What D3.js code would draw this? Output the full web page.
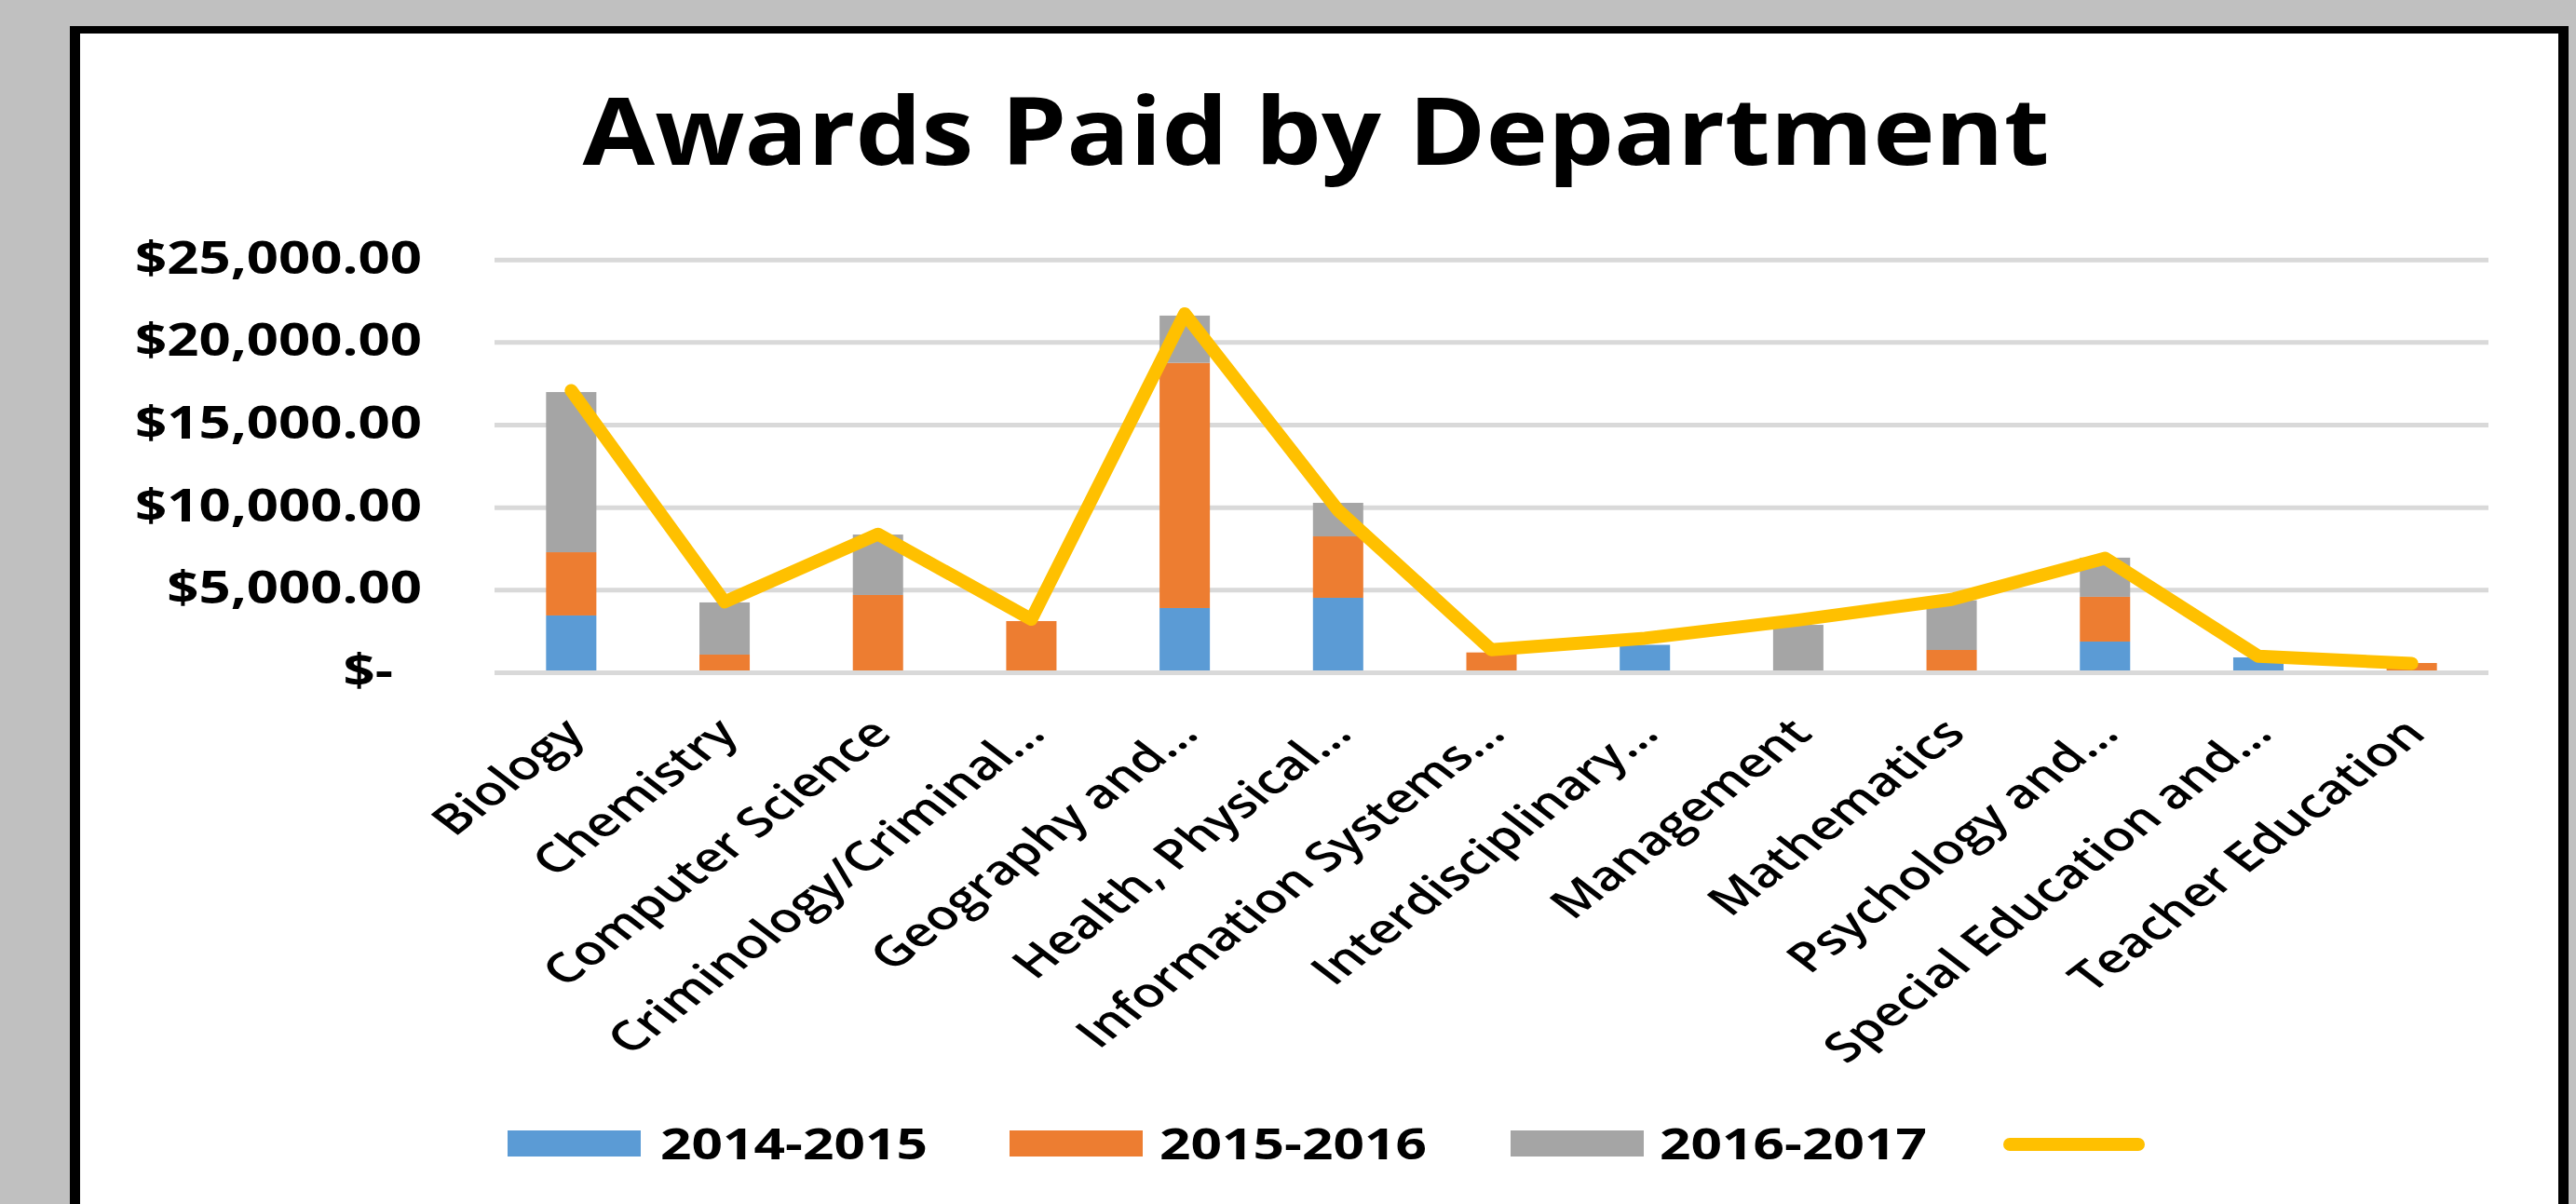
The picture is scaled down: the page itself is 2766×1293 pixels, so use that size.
<!DOCTYPE html>
<html><head><meta charset="utf-8">
<script src="https://cdn.jsdelivr.net/npm/d3@7"></script>
<style>html,body{margin:0;padding:0;background:#c0c0c0;overflow:hidden}</style>
</head><body>
<svg id="chart" width="2766" height="1293"></svg>
<script>
const categories = ["Biology","Chemistry","Computer Science","Criminology/Criminal…","Geography and…","Health, Physical…","Information Systems…","Interdisciplinary…","Management","Mathematics","Psychology and…","Special Education and…","Teacher Education"];
const seriesNames = ["2014-2015","2015-2016","2016-2017"];
const s2014 = [3330,0,0,0,3780,4400,0,1550,0,0,1750,790,0];
const s2015 = [3830,960,4570,2990,14850,3720,1090,0,0,1240,2710,0,450];
const s2016 = [9700,3160,3660,0,2860,2030,0,0,2760,3010,2370,0,0];
const lineValues = [16950,4150,8250,3100,21600,9700,1250,1950,3050,4300,6800,860,420];
const yTicks = [0,5000,10000,15000,20000,25000];
const yTickLabels = ["$-","$5,000.00","$10,000.00","$15,000.00","$20,000.00","$25,000.00"];
const titleText = "Awards Paid by Department";
const colors = ["#5b9bd5","#ed7d31","#a5a5a5"];
const lineColor = "#ffc000";

const FONT = "'Open Sans', 'DejaVu Sans', sans-serif";
const svg = d3.select("#chart");

// frame
svg.append("rect").attr("x",0).attr("y",0).attr("width",2766).attr("height",1293).attr("fill","#c0c0c0");
svg.append("rect").attr("x",75).attr("y",28).attr("width",2683).attr("height",1400).attr("fill","#000");
svg.append("rect").attr("x",86).attr("y",36).attr("width",2661).attr("height",1400).attr("fill","#fff");

const x = d3.scaleBand().domain(categories).range([531,2672]).paddingInner(0.672).paddingOuter(0.336);
const y = d3.scaleLinear().domain([0,25000]).range([720,276.7]);

// gridlines
svg.append("g").selectAll("line").data(yTicks).join("line")
  .attr("x1",531).attr("x2",2672)
  .attr("y1",d=>y(d)+2.5).attr("y2",d=>y(d)+2.5)
  .attr("stroke","#d9d9d9").attr("stroke-width",5);

// stacked bars
const rows = categories.map((c,i)=>({cat:c,"2014-2015":s2014[i],"2015-2016":s2015[i],"2016-2017":s2016[i]}));
const stack = d3.stack().keys(seriesNames)(rows);
svg.append("g").selectAll("g").data(stack).join("g")
  .attr("fill",(d,i)=>colors[i])
  .selectAll("rect").data(d=>d.filter(p=>p[1]-p[0]>0)).join("rect")
  .attr("x",d=>x(d.data.cat)).attr("width",x.bandwidth())
  .attr("y",d=>y(d[1])).attr("height",d=>y(d[0])-y(d[1]));

// line
const line = d3.line().x((d,i)=>x(categories[i])+x.bandwidth()/2).y(d=>y(d));
svg.append("path").datum(lineValues).attr("d",line)
  .attr("fill","none").attr("stroke",lineColor).attr("stroke-width",14)
  .attr("stroke-linejoin","round").attr("stroke-linecap","round");

// y axis
const yAxis = svg.append("g").attr("transform","translate(453,0)")
  .call(d3.axisLeft(y).tickValues(yTicks).tickFormat((d,i)=>yTickLabels[i]).tickSize(0).tickPadding(0));
yAxis.select(".domain").remove();
yAxis.selectAll("text").attr("font-family",FONT).attr("font-size",48).attr("font-weight",700)
  .attr("fill","#000").attr("dy",null).attr("y",16.5).attr("text-anchor","end");
let refW = 0;
yAxis.selectAll("text").each(function(d){ if(d===25000) refW = this.getComputedTextLength(); });
const ysx = 308/refW;
yAxis.selectAll("text").attr("x",d=> d===0 ? -31/ysx : 0).attr("transform",`scale(${ysx},1)`);

// x axis
const xAxis = svg.append("g").attr("transform","translate(0,720)")
  .call(d3.axisBottom(x).tickSize(0).tickPadding(0));
xAxis.select(".domain").remove();
xAxis.selectAll("text").attr("font-family",FONT).attr("font-size",44).attr("font-weight",600)
  .attr("fill","#000").attr("y",0).attr("dy",null).attr("text-anchor","end")
  .attr("transform","translate(17,70) scale(1.3,1) rotate(-45)");

// title
const title = svg.append("text").text(titleText).attr("font-family",FONT).attr("font-size",100)
  .attr("font-weight",700).attr("fill","#000").attr("text-anchor","middle");
const tw = title.node().getComputedTextLength();
title.attr("transform",`translate(1413,177) scale(${1575/tw},1)`);

// legend
const legendItems = [
  {name:seriesNames[0], color:colors[0], sx:545, tx:709},
  {name:seriesNames[1], color:colors[1], sx:1084, tx:1245},
  {name:seriesNames[2], color:colors[2], sx:1622, tx:1782}
];
const lg = svg.append("g");
legendItems.forEach(it=>{
  lg.append("rect").attr("x",it.sx).attr("y",1214).attr("width",143).attr("height",28).attr("fill",it.color);
  const t = lg.append("text").text(it.name).attr("font-family",FONT).attr("font-size",46)
    .attr("font-weight",700).attr("fill","#000");
  const w = t.node().getComputedTextLength();
  t.attr("transform",`translate(${it.tx},1245) scale(${287/w},1)`);
});
lg.append("line").attr("x1",2158).attr("x2",2296).attr("y1",1229).attr("y2",1229)
  .attr("stroke",lineColor).attr("stroke-width",14).attr("stroke-linecap","round");
</script>
</body></html>
